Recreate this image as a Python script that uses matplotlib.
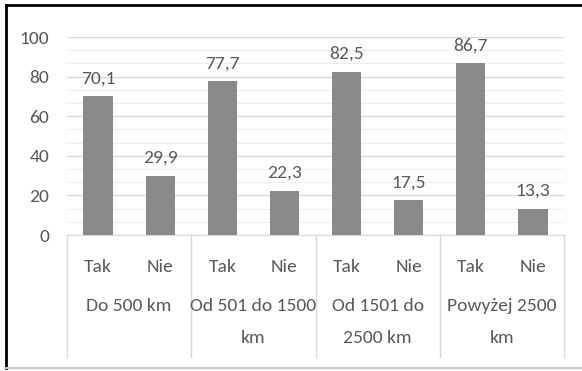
import matplotlib
matplotlib.use("Agg")
import matplotlib.pyplot as plt
from matplotlib.ticker import MultipleLocator
from matplotlib.lines import Line2D

# dane
groups = ["Do 500 km", "Od 501 do 1500\nkm", "Od 1501 do\n2500 km", "Powyżej 2500\nkm"]
answers = ["Tak", "Nie"]
values = [70.1, 29.9, 77.7, 22.3, 82.5, 17.5, 86.7, 13.3]

plt.rcParams["font.family"] = ["Carlito", "DejaVu Sans"]
txt = "#595959"
fs = 14

fig = plt.figure(figsize=(5.82, 3.71), dpi=100)
ax = fig.add_axes([67/582, 1-235/371, (564-67)/582, 198/371])

x = list(range(len(values)))
ax.bar(x, values, width=0.47, color="#8a8a8a", zorder=3)
for xi, v in zip(x, values):
    ax.annotate(f"{v:.1f}".replace(".", ","), (xi, v), xytext=(0, 7),
                textcoords="offset points", ha="center", va="bottom",
                fontsize=fs, color=txt)

ax.set_xlim(-0.5, len(values) - 0.5)
ax.set_ylim(0, 100)
ax.yaxis.set_major_locator(MultipleLocator(20))
ax.yaxis.set_minor_locator(MultipleLocator(20/3))
ax.grid(axis="y", which="major", color="#d9d9d9", lw=1, zorder=0)
ax.grid(axis="y", which="minor", color="#eeeeee", lw=0.8, zorder=0)
for s in ["left", "right", "top"]:
    ax.spines[s].set_visible(False)
ax.spines["bottom"].set_color("#d9d9d9")
ax.tick_params(axis="y", which="both", length=0, labelsize=fs, labelcolor=txt, pad=13)
ax.tick_params(axis="x", length=0)
ax.set_xticks([])

tr = ax.get_xaxis_transform()
for xi in x:
    ax.text(xi, -0.16, answers[xi % 2], transform=tr, ha="center", va="center",
            fontsize=fs, color=txt)
for gi, g in enumerate(groups):
    ax.text(2*gi + 0.5, -0.32, g, transform=tr, ha="center", va="top",
            fontsize=fs, color=txt, linespacing=2.2)
for b in range(len(groups) + 1):
    ax.plot([2*b - 0.5, 2*b - 0.5], [0, -0.616], transform=tr, color="#d9d9d9",
            lw=1, clip_on=False)

# ramka
fig.add_artist(Line2D([6/582, 6/582], [0.008, 1-5/371], transform=fig.transFigure, color="black", lw=2))
fig.add_artist(Line2D([6/582, 1.0], [1-5/371, 1-5/371], transform=fig.transFigure, color="black", lw=2))
fig.add_artist(Line2D([6/582, 1.0], [0.008, 0.008], transform=fig.transFigure, color="#c8c8c8", lw=1.5))

fig.savefig("out.png", dpi=100)
